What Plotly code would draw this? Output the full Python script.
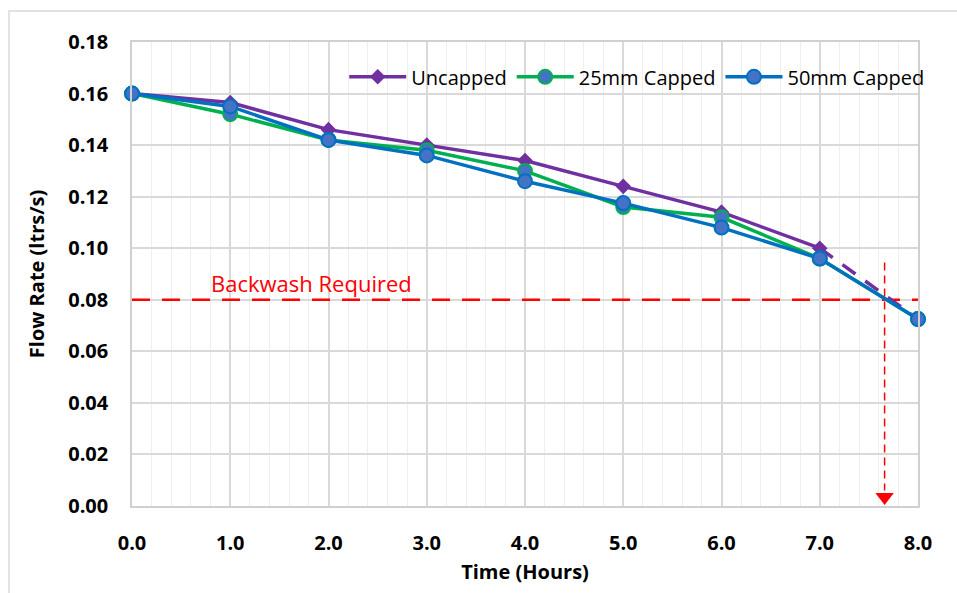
import plotly.graph_objects as go

# Flow rate measured each hour for three filter configurations
hours = [0, 1, 2, 3, 4, 5, 6, 7, 8]
uncapped_hours = [0, 1, 2, 3, 4, 5, 6, 7]
uncapped = [0.160, 0.1565, 0.146, 0.140, 0.134, 0.124, 0.114, 0.100]
capped_25mm = [0.160, 0.152, 0.142, 0.138, 0.130, 0.116, 0.112, 0.096, 0.0725]
capped_50mm = [0.160, 0.155, 0.142, 0.136, 0.126, 0.1175, 0.108, 0.096, 0.0725]

# Projected uncapped decline beyond the last reading
projection_hours = [7, 8]
projection_flow = [0.100, 0.0725]

# Backwash threshold and the time it is reached
backwash_flow = 0.08
backwash_time = 7.66
arrow_top = 0.0945

PURPLE = "#7030A0"
GREEN = "#00B050"
BLUE = "#0070C0"
MARKER_FILL = "#4472C4"
RED = "#FF0000"
FONT = "'Open Sans', sans-serif"

fig = go.Figure()

# Backwash threshold line
fig.add_trace(go.Scatter(
    x=[0, 8], y=[backwash_flow, backwash_flow], mode="lines",
    line=dict(color=RED, width=2.5, dash="18px,12px"),
    showlegend=False, hoverinfo="skip",
))

# Dashed projection for uncapped
fig.add_trace(go.Scatter(
    x=projection_hours, y=projection_flow, mode="lines",
    line=dict(color=PURPLE, width=3.5, dash="16px,12px"),
    showlegend=False, hoverinfo="skip",
))

fig.add_trace(go.Scatter(
    x=uncapped_hours, y=uncapped, mode="lines+markers", name="Uncapped",
    line=dict(color=PURPLE, width=3.5),
    marker=dict(symbol="diamond", size=12, color=PURPLE),
    cliponaxis=False,
))
fig.add_trace(go.Scatter(
    x=hours, y=capped_25mm, mode="lines+markers", name="25mm Capped",
    line=dict(color=GREEN, width=3.5),
    marker=dict(symbol="circle", size=14, color=MARKER_FILL, line=dict(color=GREEN, width=2)),
    cliponaxis=False,
))
fig.add_trace(go.Scatter(
    x=hours, y=capped_50mm, mode="lines+markers", name="50mm Capped",
    line=dict(color=BLUE, width=3.5),
    marker=dict(symbol="circle", size=14, color=MARKER_FILL, line=dict(color=BLUE, width=2)),
    cliponaxis=False,
))

# Vertical dashed drop to the time axis with an arrowhead
fig.add_trace(go.Scatter(
    x=[backwash_time, backwash_time], y=[arrow_top, 0.006], mode="lines",
    line=dict(color=RED, width=1.5, dash="8px,5px"),
    showlegend=False, hoverinfo="skip",
))
fig.add_trace(go.Scatter(
    x=[backwash_time], y=[0.0035], mode="markers",
    marker=dict(symbol="triangle-down", size=16, color=RED),
    showlegend=False, hoverinfo="skip",
))

fig.add_annotation(
    x=1.83, y=backwash_flow, yshift=17, text="Backwash Required",
    showarrow=False, font=dict(family=FONT, size=22, color=RED),
)

# Outer chart frame
fig.add_shape(
    type="rect", xref="paper", yref="paper",
    x0=-0.1565, x1=1.2, y0=-0.3, y1=1.067,
    line=dict(color="#D9D9D9", width=1.5), fillcolor="rgba(0,0,0,0)", layer="below",
)

fig.update_layout(
    width=957, height=593,
    margin=dict(l=132, r=39, t=42, b=87),
    paper_bgcolor="white", plot_bgcolor="white",
    font=dict(family=FONT, color="black"),
    legend=dict(
        orientation="h", x=0.27, xanchor="left", y=0.925, yanchor="middle",
        font=dict(family=FONT, size=20), bgcolor="rgba(255,255,255,0)",
        tracegroupgap=0, itemwidth=57,
    ),
    xaxis=dict(
        range=[0, 8], tick0=0, dtick=1, tickformat=".1f",
        tickfont=dict(family=FONT, size=20, color="black", weight="bold"),
        showgrid=True, gridcolor="#D9D9D9", gridwidth=1.5,
        minor=dict(tick0=0, dtick=0.2, showgrid=True, gridcolor="#EFEFEF", gridwidth=1),
        showline=True, linecolor="#D0D0D0", linewidth=1.5, mirror=True,
        zeroline=False, ticks="outside", ticklen=18, tickcolor="rgba(0,0,0,0)",
        title=dict(text="Time (Hours)", font=dict(family=FONT, size=20, weight="bold"), standoff=10),
    ),
    yaxis=dict(
        range=[0, 0.18], tick0=0, dtick=0.02, tickformat=".2f",
        tickfont=dict(family=FONT, size=20, color="black", weight="bold"),
        showgrid=True, gridcolor="#D9D9D9", gridwidth=1.5,
        showline=True, linecolor="#D0D0D0", linewidth=1.5, mirror=True,
        zeroline=False, ticks="outside", ticklen=18, tickcolor="rgba(0,0,0,0)",
        title=dict(text="Flow Rate (ltrs/s)", font=dict(family=FONT, size=20, weight="bold"), standoff=18),
    ),
)

fig.write_html("out.html")
